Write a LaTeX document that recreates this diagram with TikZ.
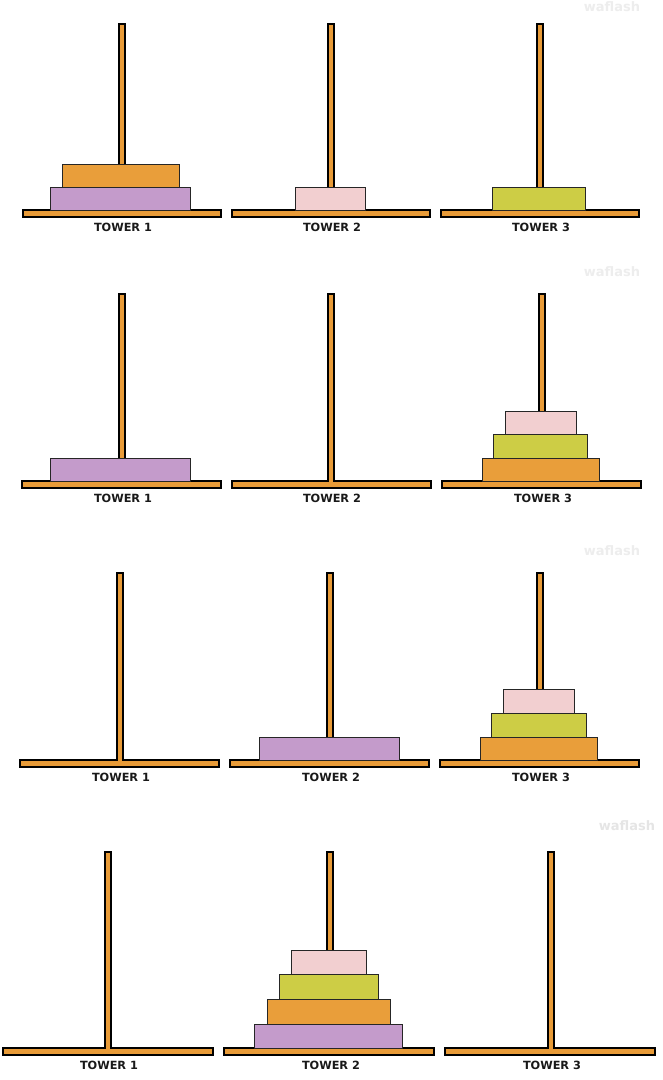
\documentclass[tikz,border=0pt]{standalone}
\usepackage{fontspec}
\setmainfont{DejaVu Sans}
\definecolor{rodc}{HTML}{E89B38}
\definecolor{dpurple}{HTML}{C49BCB}
\definecolor{dpink}{HTML}{F2CFD0}
\definecolor{dgreen}{HTML}{CDCD45}
\definecolor{dorange}{HTML}{E99E3A}
\tikzset{
  peg/.style={fill=rodc, draw=black, line width=1.8pt},
  disc/.style={draw=black!85, line width=0.9pt},
  lbl/.style={font=\fontsize{11.3}{12}\selectfont\bfseries, text=black!90, inner sep=0pt},
  wm/.style={font=\fontsize{13}{14}\selectfont\bfseries, text=black!7, inner sep=0pt}
}
% #1 cx, #2 rod top, #3 base top, #4 base left, #5 base right, #6 name, #7 label
\newcommand\hpeg[7]{%
  \draw[peg] (#4,#3) rectangle (#5,{#3+7});
  \draw[peg] ({#1-3.3},#2) rectangle ({#1+3.3},#3);
  \fill[rodc] ({#1-2.4},{#3-1.5}) rectangle ({#1+2.4},{#3+1.5});
  \node[lbl] (#6) at ({#1+1},{#3+17}) {#7};
}
% #1 left, #2 right, #3 top, #4 bottom, #5 colour
\newcommand\hdisc[5]{%
  \draw[disc, fill=#5] (#1,#3) rectangle (#2,#4);
}
\begin{document}
\begin{tikzpicture}[x=1pt,y=-1pt]
\useasboundingbox (0,0) rectangle (662,1080);
\fill[white] (0,0) rectangle (662,1080);
% watermarks
\node[wm] (wm1) at (612,7) {waflash};
\node[wm] (wm2) at (612,272) {waflash};
\node[wm] (wm3) at (612,551) {waflash};
\node[wm, text=black!10] (wm4) at (627,826) {waflash};
% Row 1
\hpeg{122}{24}{210}{23}{221}{a1}{TOWER 1}
\hpeg{331}{24}{210}{232}{430}{a2}{TOWER 2}
\hpeg{540}{24}{210}{441}{639}{a3}{TOWER 3}
\hdisc{50}{190}{187}{210}{dpurple}
\hdisc{62}{179}{164}{187}{dorange}
\hdisc{295}{365}{187}{210}{dpink}
\hdisc{492}{585}{187}{210}{dgreen}
% Row 2
\hpeg{122}{294}{481}{22}{221}{b1}{TOWER 1}
\hpeg{331}{294}{481}{232}{431}{b2}{TOWER 2}
\hpeg{542}{294}{481}{442}{641}{b3}{TOWER 3}
\hdisc{50}{190}{458}{481}{dpurple}
\hdisc{482}{599}{458}{481}{dorange}
\hdisc{493}{587}{434}{458}{dgreen}
\hdisc{505}{576}{411}{434}{dpink}
% Row 3
\hpeg{120}{573}{760}{20}{219}{c1}{TOWER 1}
\hpeg{330}{573}{760}{230}{429}{c2}{TOWER 2}
\hpeg{540}{573}{760}{440}{639}{c3}{TOWER 3}
\hdisc{259}{399}{737}{760}{dpurple}
\hdisc{480}{597}{737}{760}{dorange}
\hdisc{491}{586}{713}{737}{dgreen}
\hdisc{503}{574}{689}{713}{dpink}
% Row 4
\hpeg{108}{852}{1048}{3}{213}{d1}{TOWER 1}
\hpeg{330}{852}{1048}{224}{434}{d2}{TOWER 2}
\hpeg{551}{852}{1048}{445}{655}{d3}{TOWER 3}
\hdisc{254}{402}{1024}{1048}{dpurple}
\hdisc{267}{390}{999}{1024}{dorange}
\hdisc{279}{378}{974}{999}{dgreen}
\hdisc{291}{366}{950}{974}{dpink}
\end{tikzpicture}
\end{document}
